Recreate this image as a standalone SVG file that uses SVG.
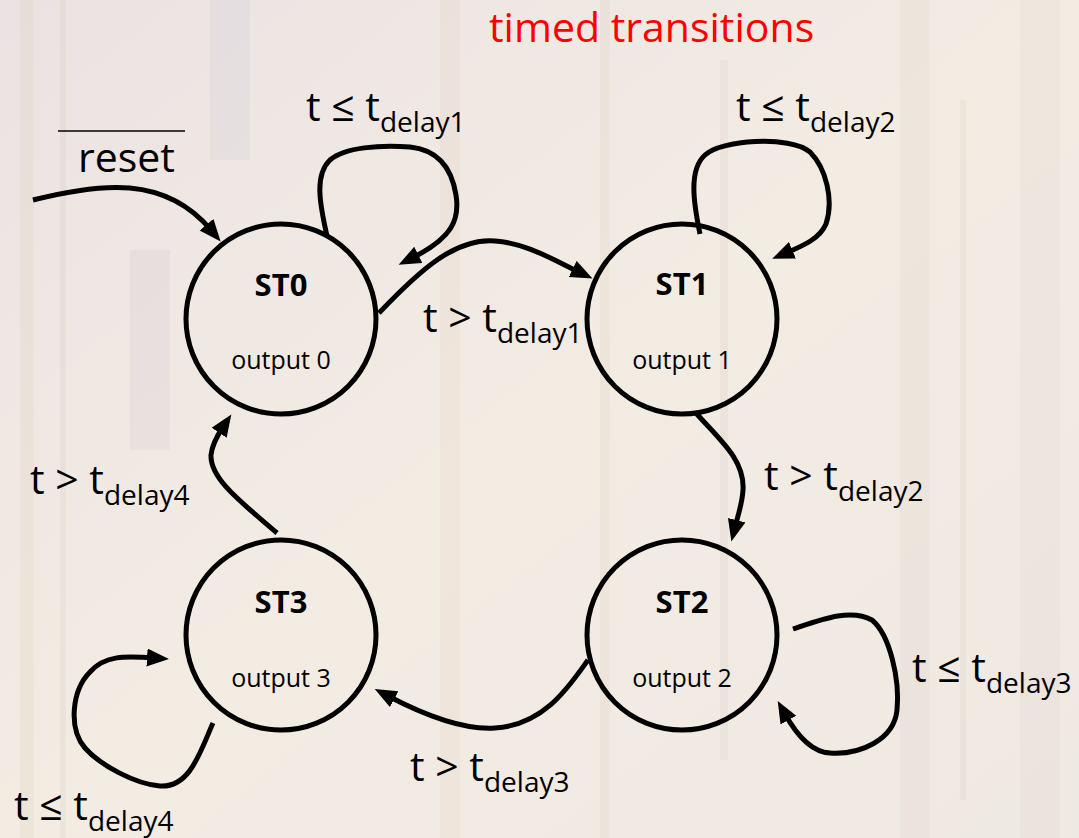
<svg xmlns="http://www.w3.org/2000/svg" width="1079" height="838" viewBox="0 0 1079 838">
  <defs>
    <marker id="arrow" markerUnits="userSpaceOnUse" markerWidth="24" markerHeight="20" refX="7" refY="9" orient="auto">
      <path d="M0,0 L22,9 L0,18 z" fill="#000"/>
    </marker>
    <linearGradient id="bg" x1="0" y1="0" x2="1" y2="1">
      <stop offset="0" stop-color="#ebe3e3"/>
      <stop offset="0.5" stop-color="#f3ece3"/>
      <stop offset="1" stop-color="#efe9e3"/>
    </linearGradient>
  </defs>
  <style>
    .node circle { fill: none; stroke: #000; stroke-width: 5; }
    .name { font-family: "Open Sans", "Liberation Sans", sans-serif; font-weight: bold; font-size: 31px; fill: #000; text-anchor: middle; }
    .out { font-family: "Open Sans", "Liberation Sans", sans-serif; font-size: 25px; fill: #000; text-anchor: middle; }
    .lbl { font-family: "Open Sans", "Liberation Sans", sans-serif; font-size: 41px; fill: #000; }
    .sub { font-size: 28px; }
    .edge { fill: none; stroke: #000; stroke-width: 5; }
    .arr { marker-end: url(#arrow); }
    .title { font-family: "Open Sans", "Liberation Sans", sans-serif; font-size: 41px; fill: #ff0000; }
  </style>
  <g id="background">
    <rect x="0" y="0" width="1079" height="838" fill="url(#bg)"/>
    <g opacity="0.08">
      <rect x="20" y="0" width="14" height="838" fill="#b8a070"/>
      <rect x="60" y="0" width="6" height="838" fill="#a89070"/>
      <rect x="130" y="250" width="40" height="200" fill="#9090b0"/>
      <rect x="210" y="0" width="40" height="160" fill="#9098c0"/>
      <rect x="440" y="0" width="20" height="838" fill="#c8a880"/>
      <rect x="600" y="0" width="10" height="838" fill="#b89880"/>
      <rect x="720" y="60" width="8" height="700" fill="#b0a090"/>
      <rect x="900" y="0" width="30" height="838" fill="#c0a890"/>
      <rect x="960" y="100" width="6" height="700" fill="#a89880"/>
      <rect x="1020" y="0" width="40" height="838" fill="#c4b0a0"/>
    </g>
  </g>
  <text class="title" x="489" y="42">timed transitions</text>
  <g id="reset-label">
    <line x1="58" y1="131" x2="185" y2="131" stroke="#000" stroke-width="1.5"/>
    <text class="lbl" x="78" y="172">reset</text>
  </g>
  <g id="connectors">
    <path id="e-reset" class="edge arr" d="M33,200 C 100,183 165,175 211,230"/>
    <path id="e-st0-self" class="edge arr" d="M327,236 C 320,205 314,175 330,160 C 345,147 380,145 410,147 C 440,150 452,170 456,195 C 460,220 452,238 412,258"/>
    <path id="e-st0-st1" class="edge arr" d="M379,313 C 420,270 455,238 495,241 C 525,243 550,258 579,272"/>
    <path id="e-st1-self" class="edge arr" d="M700,234 C 694,205 688,170 705,155 C 720,140 790,135 810,152 C 826,168 834,200 826,224 C 820,238 805,245 786,253"/>
    <path id="e-st1-st2" class="edge arr" d="M695,412 C 720,440 745,460 743,490 C 742,505 738,515 735,527"/>
    <path id="e-st2-self" class="edge arr" d="M793,629 C 820,620 850,608 872,620 C 890,635 900,680 897,710 C 894,740 860,755 830,753 C 810,752 795,732 785,714"/>
    <path id="e-st2-st3" class="edge arr" d="M588,660 C 570,685 545,725 495,728 C 465,730 430,718 388,696"/>
    <path id="e-st3-self" class="edge arr" d="M213,723 C 200,752 190,788 160,786 C 135,784 100,765 85,748 C 68,728 72,690 90,672 C 105,655 125,656 154,658"/>
    <path id="e-st3-st0" class="edge arr" d="M277,533 C 245,505 210,480 211,455 C 212,445 217,436 223,427"/>
  </g>
  <g id="edge-labels">
    <text class="lbl" x="306" y="121">t ≤ t<tspan class="sub" dy="11">delay1</tspan></text>
    <text class="lbl" x="736" y="121">t ≤ t<tspan class="sub" dy="11">delay2</tspan></text>
    <text class="lbl" x="423" y="332">t &gt; t<tspan class="sub" dy="11">delay1</tspan></text>
    <text class="lbl" x="764" y="490">t &gt; t<tspan class="sub" dy="11">delay2</tspan></text>
    <text class="lbl" x="912" y="682">t ≤ t<tspan class="sub" dy="11">delay3</tspan></text>
    <text class="lbl" x="410" y="781">t &gt; t<tspan class="sub" dy="11">delay3</tspan></text>
    <text class="lbl" x="30" y="494">t &gt; t<tspan class="sub" dy="11">delay4</tspan></text>
    <text class="lbl" x="14" y="820">t ≤ t<tspan class="sub" dy="11">delay4</tspan></text>
  </g>
  <g id="ST0" class="node">
    <circle cx="281" cy="319" r="95"/>
    <text class="name" x="281" y="296">ST0</text>
    <text class="out" x="281" y="369">output 0</text>
  </g>
  <g id="ST1" class="node">
    <circle cx="682" cy="319" r="95"/>
    <text class="name" x="682" y="295">ST1</text>
    <text class="out" x="682" y="369">output 1</text>
  </g>
  <g id="ST2" class="node">
    <circle cx="682" cy="635" r="95"/>
    <text class="name" x="682" y="613">ST2</text>
    <text class="out" x="682" y="687">output 2</text>
  </g>
  <g id="ST3" class="node">
    <circle cx="281" cy="635" r="95"/>
    <text class="name" x="281" y="613">ST3</text>
    <text class="out" x="281" y="687">output 3</text>
  </g>
</svg>
